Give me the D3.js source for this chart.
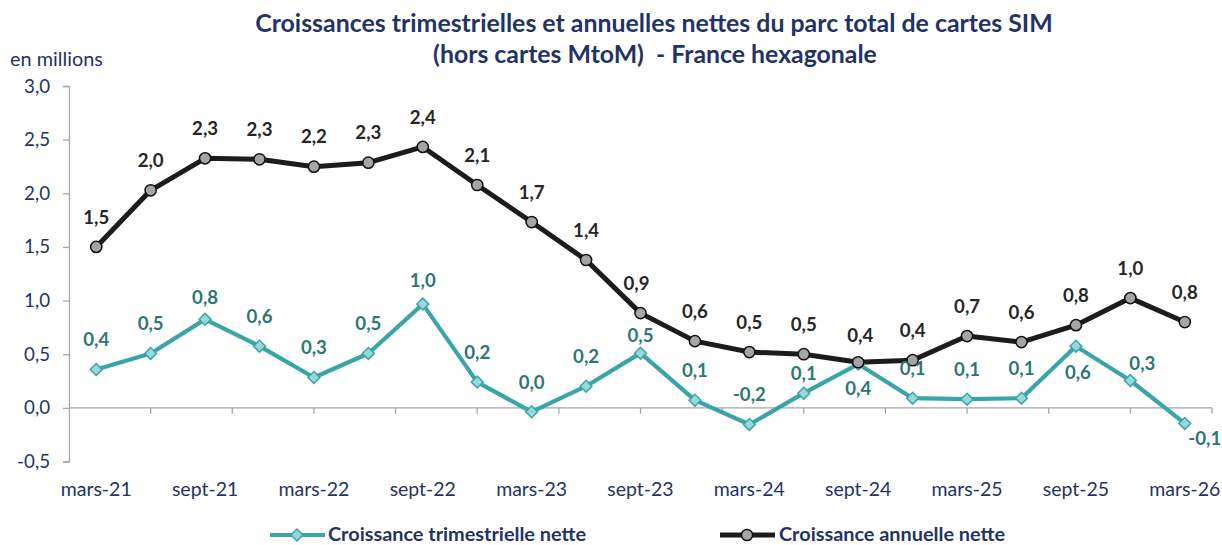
<!DOCTYPE html>
<html><head><meta charset="utf-8">
<script src="https://cdn.jsdelivr.net/npm/d3@7"></script>
<style>
html,body{margin:0;padding:0;background:#fff;}
svg{display:block;font-family:Lato,"Open Sans",sans-serif;}
</style></head>
<body>
<svg id="c" width="1222" height="545"></svg>
<script>
const categories = ["mars-21","juin-21","sept-21","déc-21","mars-22","juin-22","sept-22","déc-22","mars-23","juin-23","sept-23","déc-23","mars-24","juin-24","sept-24","déc-24","mars-25","juin-25","sept-25","déc-25","mars-26"];
const tickLabels = ["mars-21","sept-21","mars-22","sept-22","mars-23","sept-23","mars-24","sept-24","mars-25","sept-25","mars-26"];
const quarterly = [0.358,0.507,0.825,0.575,0.283,0.507,0.967,0.24,-0.037,0.202,0.51,0.072,-0.155,0.137,0.408,0.09,0.081,0.09,0.575,0.255,-0.145];
const annual = [1.50,2.028,2.326,2.317,2.248,2.285,2.432,2.077,1.732,1.378,0.883,0.622,0.52,0.50,0.425,0.444,0.669,0.613,0.771,1.023,0.80];
const yTicks = [-0.5,0,0.5,1.0,1.5,2.0,2.5,3.0];
const seriesNames = ["Croissance trimestrielle nette","Croissance annuelle nette"];
const titleLines = ["Croissances trimestrielles et annuelles nettes du parc total de cartes SIM","(hors cartes MtoM)  - France hexagonale"];
const unitLabel = "en millions";

// label placement overrides (index -> [dx, dy])
const qLabelPos = {2:[0,-22],6:[0,-24],10:[0,-18],13:[0,-20],14:[0,24],18:[2,26],19:[12,-17],20:[20,15]};
const aLabelPos = {10:[-4,-30],14:[2,-27]};

const navy = "#1F3464";
const teal = "#3AA5A9";
const tealFill = "#97D8DB";
const tealText = "#2E7676";
const dark = "#1C1C1C";
const axisGrey = "#A6A6A6";

const svg = d3.select("#c");
const x = d3.scaleBand().domain(categories).range([69,1212]).padding(0);
const cx = c => x(c) + x.bandwidth()/2;
const y = d3.scaleLinear().domain([-0.5,3]).range([461.5,86]);
const fmt = v => { const r = Math.round(v*10)/10; return (r === 0 ? 0 : r).toFixed(1).replace(".", ","); };

// measure helper: font size that gives a target width
function sizeFor(text, weight, target){
  const t = svg.append("text").attr("font-size",20).attr("font-weight",weight).style("white-space","pre").text(text);
  const w = t.node().getComputedTextLength();
  t.remove();
  return 20*target/w;
}
const fsTitle1 = sizeFor(titleLines[0],"bold",798);
const fsTitle2 = sizeFor(titleLines[1],"bold",444);
const fsTick = sizeFor("mars-21","normal",71);
const fsYTick = sizeFor("3,0","normal",26);
const fsUnit = sizeFor(unitLabel,"normal",93);
const fsData = sizeFor("2,3","bold",26);
const fsLeg = sizeFor(seriesNames[0],"bold",258);

// title
svg.append("text").attr("x",654).attr("y",32).attr("text-anchor","middle")
  .attr("font-weight","bold").attr("font-size",fsTitle1).attr("fill",navy).text(titleLines[0]);
svg.append("text").attr("x",655).attr("y",63).attr("text-anchor","middle")
  .attr("font-weight","bold").attr("font-size",fsTitle2).attr("fill",navy)
  .style("white-space","pre").text(titleLines[1]);
svg.append("text").attr("x",10).attr("y",66).attr("font-size",fsUnit).attr("fill",navy).text(unitLabel);

// y axis
const yAxis = d3.axisLeft(y).tickValues(yTicks).tickSize(6).tickPadding(13).tickFormat(d => d.toFixed(1).replace(".", ","));
const gy = svg.append("g").attr("transform","translate(69,0)").call(yAxis);
gy.select(".domain").attr("stroke",axisGrey).attr("stroke-width",1.3);
gy.selectAll(".tick line").attr("stroke",axisGrey).attr("stroke-width",1.3);
gy.selectAll(".tick text").attr("fill",navy).attr("font-size",fsYTick).attr("font-family","Lato,sans-serif");

// x axis at y=0
const y0 = y(0);
svg.append("line").attr("x1",69).attr("x2",1212).attr("y1",y0).attr("y2",y0).attr("stroke",axisGrey).attr("stroke-width",1.3);
const step = x.step();
const nTicks = Math.round(categories.length/1.5);
svg.append("g").selectAll("line").data(d3.range(1,nTicks+1)).join("line")
  .attr("x1",k => 69 + k*1.5*step).attr("x2",k => 69 + k*1.5*step)
  .attr("y1",y0).attr("y2",y0+6).attr("stroke",axisGrey).attr("stroke-width",1.3);
svg.append("g").selectAll("text").data(tickLabels).join("text")
  .attr("x",d => cx(d)).attr("y",496).attr("text-anchor","middle")
  .attr("font-size",fsTick).attr("fill",navy).text(d => d);

// lines
const line = vals => d3.line().x((d,i)=>cx(categories[i])).y(d=>y(d))(vals);
svg.append("path").attr("d",line(annual)).attr("fill","none").attr("stroke",dark).attr("stroke-width",5).attr("stroke-linejoin","round");
svg.append("path").attr("d",line(quarterly)).attr("fill","none").attr("stroke",teal).attr("stroke-width",4.2).attr("stroke-linejoin","round");

// markers
function drawDiamond(g, px, py){
  g.append("rect").attr("x",px-4.2).attr("y",py-4.2).attr("width",8.4).attr("height",8.4)
   .attr("transform",`rotate(45 ${px} ${py})`).attr("fill",tealFill).attr("stroke",teal).attr("stroke-width",1.5);
}
const gq = svg.append("g");
quarterly.forEach((v,i)=> drawDiamond(gq, cx(categories[i]), y(v)));
function drawCircle(g, px, py){
  g.append("circle").attr("cx",px).attr("cy",py).attr("r",5.6)
   .attr("fill","#A5A5A5").attr("stroke","#111").attr("stroke-width",1.5);
}
const ga = svg.append("g");
annual.forEach((v,i)=> drawCircle(ga, cx(categories[i]), y(v)));

// data labels
svg.append("g").selectAll("text").data(annual).join("text")
  .attr("x",(d,i)=>cx(categories[i]) + (aLabelPos[i]?aLabelPos[i][0]:0))
  .attr("y",(d,i)=>y(d) + (aLabelPos[i]?aLabelPos[i][1]:-30))
  .attr("dy","0.36em").attr("text-anchor","middle").attr("font-weight","bold")
  .attr("font-size",fsData).attr("fill","#262626").text(d=>fmt(d));
svg.append("g").selectAll("text").data(quarterly).join("text")
  .attr("x",(d,i)=>cx(categories[i]) + (qLabelPos[i]?qLabelPos[i][0]:0))
  .attr("y",(d,i)=>y(d) + (qLabelPos[i]?qLabelPos[i][1]:-30))
  .attr("dy","0.36em").attr("text-anchor","middle").attr("font-weight","bold")
  .attr("font-size",fsData).attr("fill",tealText).text(d=>fmt(d));

// legend
const lg = svg.append("g");
lg.append("line").attr("x1",270).attr("x2",325).attr("y1",535).attr("y2",535).attr("stroke",teal).attr("stroke-width",4.2);
drawDiamond(lg, 297, 535);
lg.append("text").attr("x",328).attr("y",541).attr("font-weight","bold").attr("font-size",fsLeg).attr("fill",navy).text(seriesNames[0]);
lg.append("line").attr("x1",720).attr("x2",775).attr("y1",535).attr("y2",535).attr("stroke",dark).attr("stroke-width",5);
drawCircle(lg, 747, 535);
lg.append("text").attr("x",779).attr("y",541).attr("font-weight","bold").attr("font-size",fsLeg).attr("fill",navy).text(seriesNames[1]);
</script>
</body></html>
